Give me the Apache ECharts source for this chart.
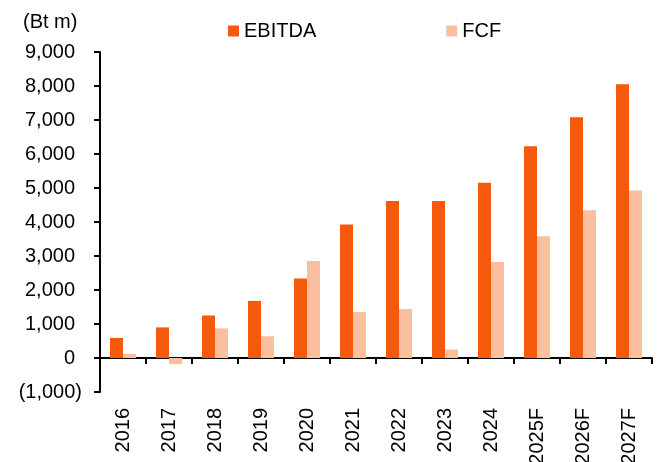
<!DOCTYPE html>
<html>
<head>
<meta charset="utf-8">
<style>html,body{margin:0;padding:0;background:#fff;}#c{width:666px;height:462px;}</style>
<script src="https://cdn.jsdelivr.net/npm/echarts@6/dist/echarts.min.js"></script>
</head>
<body>
<div id="c"></div>
<script>
const categories = ['2016','2017','2018','2019','2020','2021','2022','2023','2024','2025F','2026F','2027F'];
const ebitda = [590, 900, 1250, 1680, 2340, 3930, 4615, 4615, 5155, 6230, 7080, 8050];
const fcf = [120, -180, 870, 640, 2855, 1350, 1440, 250, 2820, 3580, 4345, 4930];
const yTicks = { min: -1000, max: 9000, interval: 1000 };

const chart = echarts.init(document.getElementById('c'));
const font = 'Liberation Sans, Arial, sans-serif';
const FS = 20;
function fmt(v){
  const s = Math.abs(v).toLocaleString('en-US');
  return v < 0 ? '{n|(' + s + ')}' : '{p|' + s + '}';
}
chart.setOption({
  animation: false,
  title: { text: '(Bt m)', left: 18, top: 7, textStyle: { fontFamily: font, fontSize: FS, fontWeight: 'normal', color: '#000' } },
  legend: {
    left: 228, top: 21, padding: 0, itemWidth: 11, itemHeight: 11, itemGap: 130,
    icon: 'rect',
    textStyle: { fontFamily: font, fontSize: FS, color: '#000' },
    data: ['EBITDA', 'FCF']
  },
  grid: { left: 100, right: 14, top: 52, bottom: 70, containLabel: false, outerBoundsMode: 'none' },
  xAxis: {
    type: 'category', data: categories,
    axisLine: { onZero: true, lineStyle: { color: '#000', width: 2 } },
    axisTick: { show: true, length: 6, inside: false, lineStyle: { color: '#000', width: 2 } },
    axisLabel: { rotate: 90, margin: 16, fontFamily: font, fontSize: FS, color: '#000' }
  },
  yAxis: {
    type: 'value', min: yTicks.min, max: yTicks.max, interval: yTicks.interval,
    splitLine: { show: false },
    axisLine: { show: true, lineStyle: { color: '#000', width: 2 } },
    axisTick: { show: true, length: 6, lineStyle: { color: '#000', width: 2 } },
    axisLabel: {
      margin: 18, fontFamily: font, fontSize: FS, color: '#000', formatter: fmt,
      rich: {
        p: { fontFamily: font, fontSize: FS, color: '#000', padding: [0, 7, 0, 0] },
        n: { fontFamily: font, fontSize: FS, color: '#000' }
      }
    }
  },
  series: [
    { name: 'EBITDA', type: 'bar', data: ebitda, barWidth: 13, barGap: '0%', itemStyle: { color: '#F55A0C' } },
    { name: 'FCF', type: 'bar', data: fcf, barWidth: 13, barGap: '0%', itemStyle: { color: '#FBBE9F' } }
  ]
});
</script>
</body>
</html>
